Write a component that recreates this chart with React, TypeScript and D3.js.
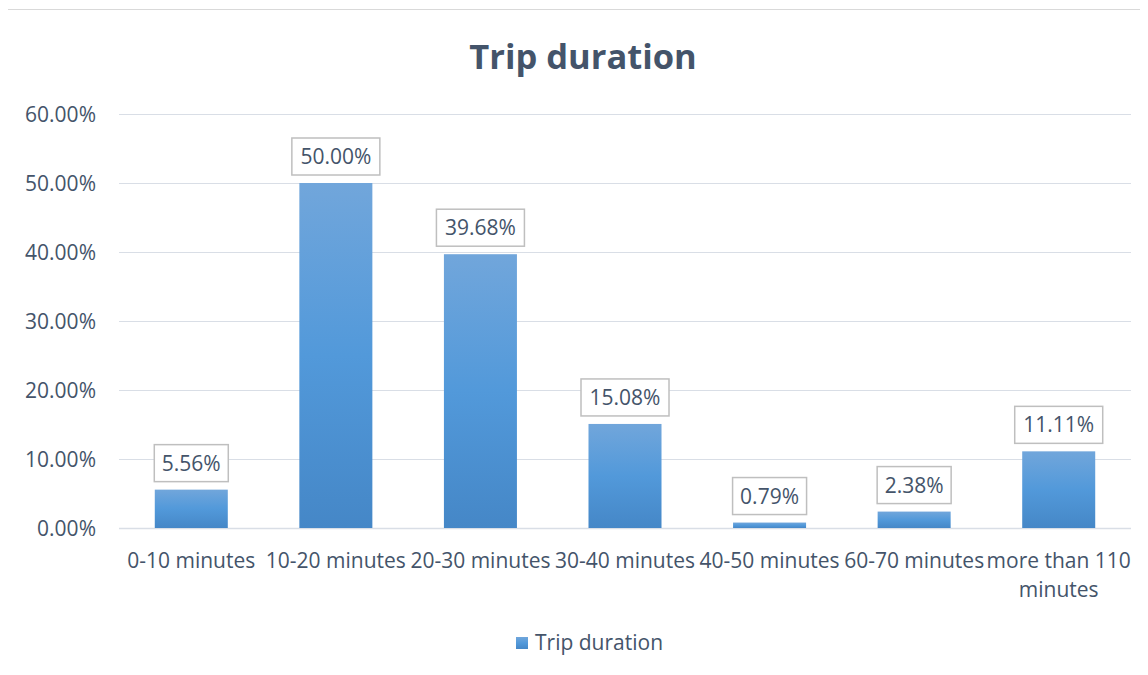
import { useMemo } from "react";
import * as d3 from "d3";

const categories = [
  "0-10 minutes",
  "10-20 minutes",
  "20-30 minutes",
  "30-40 minutes",
  "40-50 minutes",
  "60-70 minutes",
  "more than 110 minutes",
];
const values = [5.56, 50.0, 39.68, 15.08, 0.79, 2.38, 11.11];
const yTicks = [0, 10, 20, 30, 40, 50, 60];
const seriesName = "Trip duration";

const W = 1148;
const H = 675;
const FONT = "'Open Sans', 'Noto Sans', sans-serif";
const TEXT = "#44546A";
const FS = 21;

// Excel-style wrapping for the long category label
function wrapLabel(s: string): string[] {
  if (s.length <= 14) return [s];
  const words = s.split(" ");
  const first = words.slice(0, -1).join(" ");
  return [first, words[words.length - 1]];
}

export default function App() {
  const pad = { left: 119, right: 17, top: 114, bottom: 147 };

  const x = useMemo(
    () =>
      d3
        .scaleBand<string>()
        .domain(categories)
        .range([pad.left, W - pad.right])
        .paddingInner(0.495)
        .paddingOuter(0.2475),
    [],
  );
  const y = useMemo(
    () => d3.scaleLinear().domain([0, 60]).range([H - pad.bottom, pad.top]),
    [],
  );

  return (
    <div style={{ margin: -8 }}>
      <svg width={W} height={H} style={{ display: "block", fontFamily: FONT }}>
        <defs>
          <linearGradient id="bar-grad" x1="0" x2="0" y1="0" y2="1">
            <stop offset="0%" stopColor="#71A6DB" />
            <stop offset="50%" stopColor="#5299DA" />
            <stop offset="100%" stopColor="#4587C7" />
          </linearGradient>
        </defs>
        <rect x={0} y={0} width={W} height={H} fill="#fff" />
        <rect x={7.5} y={9.5} width={W} height={662} fill="none" stroke="#D9D9D9" />

        <text x={583} y={69} textAnchor="middle" fontSize={34.5} fontWeight={700} fill={TEXT}>
          Trip duration
        </text>

        {/* grid + y labels */}
        {yTicks.map((t) => (
          <g key={t}>
            <line
              x1={pad.left}
              x2={W - pad.right}
              y1={Math.round(y(t)) + 0.5}
              y2={Math.round(y(t)) + 0.5}
              stroke="#D9DEE6"
              strokeWidth={t === 0 ? 1.5 : 1}
            />
            <text x={96} y={y(t) + 7.5} textAnchor="end" fontSize={FS} fill={TEXT}>
              {t.toFixed(2)}%
            </text>
          </g>
        ))}

        {/* bars */}
        {categories.map((c, i) => (
          <rect
            key={c}
            x={x(c)}
            y={y(values[i])}
            width={x.bandwidth()}
            height={y(0) - y(values[i])}
            fill="url(#bar-grad)"
          />
        ))}

        {/* data labels */}
        {categories.map((c, i) => {
          const cx = (x(c) ?? 0) + x.bandwidth() / 2;
          const top = y(values[i]);
          const label = `${values[i].toFixed(2)}%`;
          const bw = label.length > 5 ? 88 : 74;
          const bh = 37;
          return (
            <g key={c}>
              <rect
                x={cx - bw / 2}
                y={top - 8 - bh}
                width={bw}
                height={bh}
                fill="#fff"
                stroke="#BFBFBF"
                strokeWidth={1.5}
              />
              <text x={cx} y={top - 8 - bh / 2 + 7.5} textAnchor="middle" fontSize={FS} fill={TEXT}>
                {label}
              </text>
            </g>
          );
        })}

        {/* category labels */}
        {categories.map((c) => {
          const cx = (x(c) ?? 0) + x.bandwidth() / 2;
          return (
            <text key={c} x={cx} y={568} textAnchor="middle" fontSize={FS} fill={TEXT}>
              {wrapLabel(c).map((ln, j) => (
                <tspan key={j} x={cx} dy={j === 0 ? 0 : 29}>
                  {ln}
                </tspan>
              ))}
            </text>
          );
        })}

        {/* legend */}
        <rect x={516} y={637} width={12} height={12} fill="url(#bar-grad)" />
        <text x={535} y={650} fontSize={FS} fill={TEXT}>
          {seriesName}
        </text>
      </svg>
    </div>
  );
}
